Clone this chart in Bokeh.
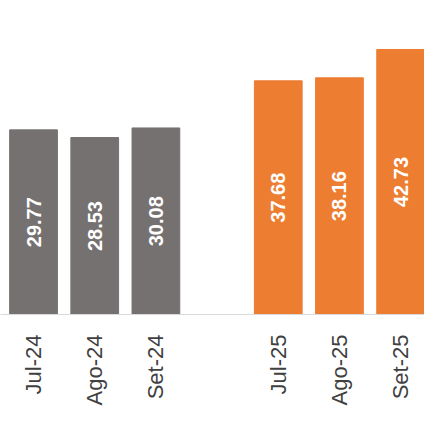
from math import pi
from bokeh.plotting import figure
from bokeh.models import ColumnDataSource, FixedTicker, Range1d
from bokeh.core.properties import value
from bokeh.embed import file_html
from bokeh.resources import INLINE

categories = ["Jul-24", "Ago-24", "Set-24", "Jul-25", "Ago-25", "Set-25"]
slots = [0, 1, 2, 4, 5, 6]
values = [29.77, 28.53, 30.08, 37.68, 38.16, 42.73]
colors = ["#767171", "#767171", "#767171", "#ED7D31", "#ED7D31", "#ED7D31"]

src = ColumnDataSource(dict(
    x=slots, top=values, color=colors,
    mid=[v / 2 for v in values],
    lbl=[f"{v:.2f}" for v in values],
))

p = figure(width=424, height=413, output_backend="svg", toolbar_location=None,
           x_range=Range1d(-0.54, 6.39), y_range=Range1d(0, 50.63),
           min_border_left=0, min_border_right=0, min_border_top=0, min_border_bottom=99)
p.outline_line_color = None
p.grid.grid_line_color = None
p.yaxis.visible = False

p.vbar(x="x", top="top", width=0.78, color="color", source=src)
p.text(x="x", y="mid", text="lbl", source=src, angle=pi / 2,
       text_align="center", text_baseline="middle", text_color="white",
       text_font=value("Liberation Sans"), text_font_style="bold", text_font_size="20px")

ax = p.xaxis[0]
ax.ticker = FixedTicker(ticks=slots)
ax.major_label_overrides = {s: c for s, c in zip(slots, categories)}
ax.major_label_orientation = pi / 2
ax.major_label_text_font = "Liberation Sans"
ax.major_label_text_font_size = "22px"
ax.major_label_text_color = "#404040"
ax.major_label_standoff = 14
ax.major_tick_line_color = None
ax.minor_tick_line_color = None
ax.axis_line_color = "#D9D9D9"
ax.axis_line_width = 1

open("out.html", "w").write(file_html(p, INLINE))
